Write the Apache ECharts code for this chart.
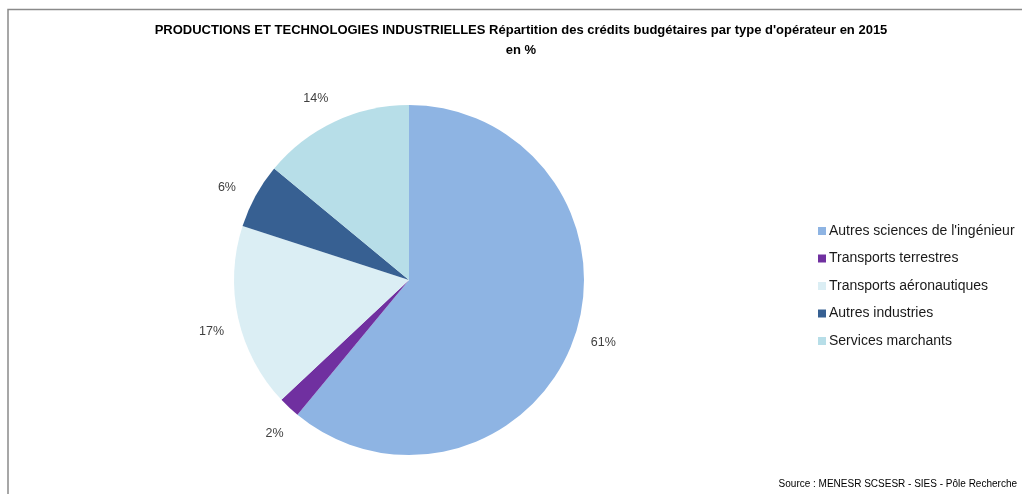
<!DOCTYPE html>
<html>
<head>
<meta charset="utf-8">
<script src="https://cdn.jsdelivr.net/npm/echarts@6/dist/echarts.min.js"></script>
<style>
  html, body { margin: 0; padding: 0; background: #fff; }
  #chart { width: 1022px; height: 494px; }
</style>
</head>
<body>
<div id="chart"></div>
<script>
// Budget credits by operator type, 2015 (in %)
const categories = [
  "Autres sciences de l'ingénieur",
  'Transports terrestres',
  'Transports aéronautiques',
  'Autres industries',
  'Services marchants'
];
const shares = [61, 2, 17, 6, 14];
const colors = ['#8EB4E3', '#7030A0', '#DBEEF4', '#376092', '#B7DEE8'];

const titleText = "PRODUCTIONS ET TECHNOLOGIES INDUSTRIELLES Répartition des crédits budgétaires par type d'opérateur en 2015";
const subtitleText = 'en %';
const sourceText = 'Source : MENESR SCSESR - SIES - Pôle Recherche';

const FONT = "'Liberation Sans', Arial, sans-serif";
const center = [409, 280];

const chart = echarts.init(document.getElementById('chart'), null, { renderer: 'canvas' });

chart.setOption({
  animation: false,
  backgroundColor: '#ffffff',
  graphic: [
    // frame: top and left edges of the chart area
    {
      type: 'polyline',
      shape: { points: [[8, 494], [8, 9.5], [1022, 9.5]] },
      style: { stroke: '#8a8a8a', lineWidth: 1.5, fill: null },
      silent: true
    },
    {
      type: 'text',
      x: 521,
      y: 24,
      style: {
        text: titleText,
        font: 'bold 13px ' + FONT,
        fill: '#000000',
        align: 'center',
        verticalAlign: 'top'
      }
    },
    {
      type: 'text',
      x: 521,
      y: 44,
      style: {
        text: subtitleText,
        font: 'bold 13px ' + FONT,
        fill: '#000000',
        align: 'center',
        verticalAlign: 'top'
      }
    },
    {
      type: 'text',
      right: 5,
      top: 479,
      style: {
        text: sourceText,
        font: '10px ' + FONT,
        fill: '#000000'
      }
    }
  ],
  legend: {
    orient: 'vertical',
    left: 813,
    top: 219,
    itemWidth: 8,
    itemHeight: 8,
    itemGap: 13.5,
    icon: 'rect',
    data: categories,
    textStyle: { fontFamily: FONT, fontSize: 14, color: '#1a1a1a', padding: [0, 0, 0, -2] },
    selectedMode: false
  },
  series: [
    {
      name: 'parts',
      type: 'pie',
      center: center,
      radius: [0, 175],
      startAngle: 90,
      clockwise: true,
      avoidLabelOverlap: false,
      silent: true,
      label: { show: false },
      labelLine: { show: false },
      itemStyle: { borderWidth: 0 },
      data: categories.map((name, i) => ({
        name: name,
        value: shares[i],
        itemStyle: { color: colors[i] }
      }))
    },
    {
      // transparent ring carrying the percentage labels outside the pie
      name: 'labels',
      type: 'pie',
      center: center,
      radius: [190, 212],
      startAngle: 92,
      clockwise: true,
      avoidLabelOverlap: false,
      silent: true,
      legendHoverLink: false,
      itemStyle: { color: 'rgba(0,0,0,0)', borderWidth: 0 },
      label: {
        show: true,
        position: 'inside',
        rotate: 0,
        fontFamily: FONT,
        fontSize: 12.5,
        color: '#404040',
        formatter: p => shares[p.dataIndex] + '%'
      },
      labelLine: { show: false },
      data: shares.map(v => ({ value: v }))
    }
  ]
});
</script>
</body>
</html>
